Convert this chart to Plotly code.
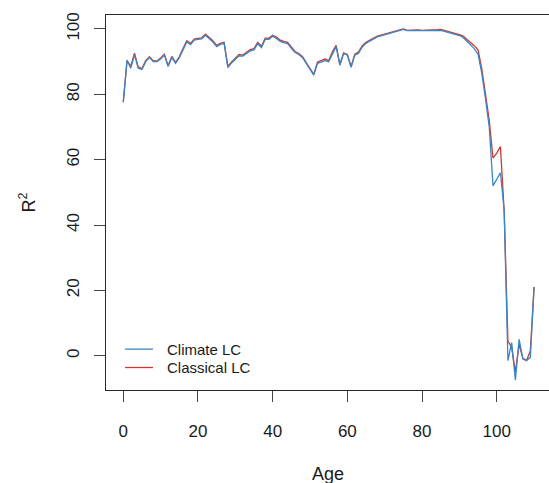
import plotly.graph_objects as go

# Age groups
ages = list(range(0, 111))

# R^2 (%) of the climate-augmented Lee-Carter model by age
climate_lc = [
    77.5, 90.5, 88.0, 92.0, 88.0, 87.6, 90.0, 91.3, 90.0, 90.0,
    90.8, 92.0, 88.5, 91.3, 89.5, 91.2, 93.6, 96.0, 95.2, 96.6,
    96.8, 97.0, 98.1, 97.1, 96.0, 94.6, 95.3, 95.6, 88.2, 89.6,
    90.7, 91.8, 91.7, 92.5, 93.3, 93.6, 95.5, 94.3, 96.8, 96.8,
    97.8, 97.1, 96.2, 95.8, 95.5, 94.1, 92.8, 92.2, 91.2, 89.5,
    87.5, 85.9, 89.5, 90.0, 90.3, 90.0, 92.5, 94.6, 88.9, 92.5,
    92.0, 88.3, 92.0, 92.6, 94.5, 95.6, 96.3, 96.9, 97.6, 97.9,
    98.2, 98.5, 98.9, 99.2, 99.5, 99.9, 99.5, 99.6, 99.7, 99.6,
    99.5, 99.5, 99.5, 99.5, 99.6, 99.6, 99.3, 99.0, 98.7, 98.4,
    98.0, 97.4, 96.3, 95.0, 94.0, 92.3, 86.5, 78.5, 70.0, 52.0,
    54.0, 56.0, 44.5, -1.5, 4.0, -7.5, 5.0, -1.0, -1.5, -0.5,
    21.0,
]

# R^2 (%) of the classical Lee-Carter model by age
classical_lc = [
    77.8, 90.2, 88.6, 92.6, 88.4, 87.9, 90.3, 91.5, 90.3, 90.2,
    91.1, 92.3, 88.8, 91.6, 89.8, 91.5, 94.0, 96.4, 95.6, 96.9,
    97.1, 97.3, 98.4, 97.5, 96.4, 95.0, 95.6, 95.9, 88.6, 89.9,
    91.1, 92.2, 92.0, 92.9, 93.7, 94.0, 95.9, 94.7, 97.2, 97.2,
    98.1, 97.5, 96.6, 96.2, 95.9, 94.5, 93.1, 92.5, 91.5, 89.7,
    87.7, 86.1, 89.9, 90.4, 90.8, 90.3, 93.0, 95.0, 89.2, 92.7,
    92.2, 88.5, 92.3, 93.0, 94.9, 95.9, 96.6, 97.1, 97.8, 98.1,
    98.4, 98.7, 99.1, 99.4, 99.6, 100.0, 99.6, 99.7, 99.8, 99.7,
    99.6, 99.6, 99.6, 99.6, 99.8, 99.9, 99.6, 99.3, 99.0, 98.7,
    98.3, 97.8, 96.9, 95.9, 94.9, 93.6, 87.8, 80.0, 72.0, 60.5,
    62.0, 64.0, 44.0, 4.5, 2.5, -5.0, 3.5, -0.8, -1.5, 1.5,
    21.0,
]

x_ticks = [0, 20, 40, 60, 80, 100]
y_ticks = [0, 20, 40, 60, 80, 100]

series_names = ["Climate LC", "Classical LC"]

BLUE = "#3A85C6"
RED = "#CC3A30"
AXIS = "#262626"
FONT = "Liberation Sans, Arial, sans-serif"

fig = go.Figure()
# classical drawn first so the climate line sits on top
fig.add_trace(go.Scatter(
    x=ages, y=classical_lc, mode="lines", name=series_names[1],
    line=dict(color=RED, width=1.3), showlegend=False,
))
fig.add_trace(go.Scatter(
    x=ages, y=climate_lc, mode="lines", name=series_names[0],
    line=dict(color=BLUE, width=1.3), showlegend=False,
))

# compact legend in the lower-left corner of the plot area
legend_rows = [(series_names[0], BLUE, 0.109), (series_names[1], RED, 0.060)]
shapes = []
annotations = []
for label, color, ypos in legend_rows:
    shapes.append(dict(type="line", xref="paper", yref="paper",
                       x0=0.043, x1=0.106, y0=ypos, y1=ypos,
                       line=dict(color=color, width=1.3)))
    annotations.append(dict(text=label, xref="paper", yref="paper",
                            x=0.134, y=ypos, xanchor="left", yanchor="middle",
                            showarrow=False,
                            font=dict(size=15, family=FONT, color="#1a1a1a")))

annotations += [
    dict(text="Age", xref="paper", yref="paper", x=0.5, y=0,
         xanchor="center", yanchor="middle", yshift=-84,
         showarrow=False, font=dict(size=18, family=FONT, color="#1a1a1a")),
    dict(text="R<sup>2</sup>", xref="paper", yref="paper", x=0, y=0.5,
         xanchor="center", yanchor="middle", xshift=-78,
         textangle=-90, showarrow=False,
         font=dict(size=18, family=FONT, color="#1a1a1a")),
]

fig.update_layout(
    width=549, height=483,
    margin=dict(l=106, r=0, t=15, b=93),
    paper_bgcolor="white", plot_bgcolor="white",
    font=dict(family=FONT, size=17, color="#1a1a1a"),
    showlegend=False,
    shapes=shapes,
    annotations=annotations,
    xaxis=dict(
        range=[-4.63, 114.0], tickvals=x_ticks,
        showgrid=False, zeroline=False,
        showline=True, linecolor=AXIS, linewidth=1.3, mirror=True,
        ticks="outside", ticklen=11, tickwidth=1.3, tickcolor="#444444",
        tickfont=dict(size=17, family=FONT),
        ticklabelstandoff=14,
    ),
    yaxis=dict(
        range=[-10.5, 104.28], tickvals=y_ticks,
        showgrid=False, zeroline=False,
        showline=True, linecolor=AXIS, linewidth=1.3, mirror=False,
        ticks="outside", ticklen=11, tickwidth=1.3, tickcolor="#444444",
        tickfont=dict(size=17, family=FONT), tickangle=-90,
        ticklabelstandoff=8,
    ),
)

fig.write_html("out.html")
